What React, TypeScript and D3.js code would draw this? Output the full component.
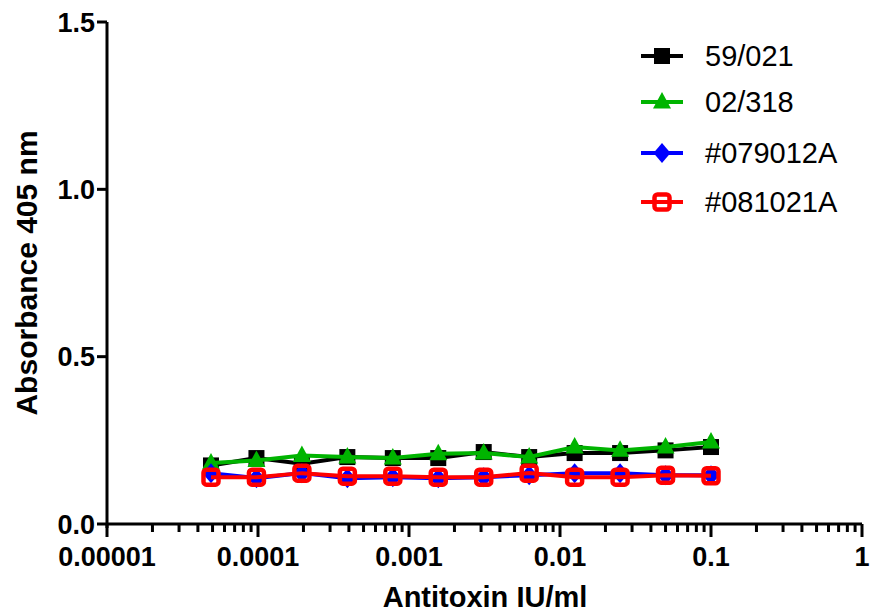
import * as d3 from "d3"

// antitoxin concentrations (IU/ml), two-fold dilutions from 0.1
const doses = [0.1, 0.05, 0.025, 0.0125, 0.00625, 0.003125, 0.0015625, 0.00078125, 0.000390625, 0.0001953125, 0.00009765625, 0.000048828125]

const seriesNames = ["59/021", "02/318", "#079012A", "#081021A"]
const seriesColors = ["#000000", "#00b400", "#0000ff", "#ff0000"]
const seriesMarkers = ["square", "triangle", "diamond", "openSquare"]

// absorbance, listed from the highest dose down
const abs59021 = [0.23, 0.22, 0.212, 0.212, 0.2, 0.215, 0.197, 0.197, 0.2, 0.18, 0.197, 0.175]
const abs02318 = [0.245, 0.23, 0.22, 0.23, 0.2, 0.212, 0.21, 0.197, 0.2, 0.205, 0.19, 0.182]
const abs079012A = [0.146, 0.146, 0.152, 0.152, 0.146, 0.14, 0.137, 0.14, 0.137, 0.152, 0.137, 0.152]
const abs081021A = [0.144, 0.146, 0.14, 0.14, 0.152, 0.14, 0.14, 0.143, 0.143, 0.152, 0.14, 0.14]
const seriesValues = [abs59021, abs02318, abs079012A, abs081021A]

const xTicks = [0.00001, 0.0001, 0.001, 0.01, 0.1, 1]
const xTickLabels = ["0.00001", "0.0001", "0.001", "0.01", "0.1", "1"]
const yTicks = [0, 0.5, 1.0, 1.5]

const Marker = ({ kind, color, x, y }: { kind: string; color: string; x: number; y: number }) => {
    if (kind === "square") return <rect x={x - 8} y={y - 8} width={16} height={16} fill={color} />
    if (kind === "triangle") return <path d={`M${x},${y - 10} L${x + 9},${y + 6.5} L${x - 9},${y + 6.5} Z`} fill={color} />
    if (kind === "diamond") return <path d={`M${x},${y - 10} L${x + 8.5},${y} L${x},${y + 10} L${x - 8.5},${y} Z`} fill={color} />
    return <rect x={x - 7.5} y={y - 7.5} width={15} height={15} rx={3} fill="none" stroke={color} strokeWidth={4.5} />
}

export default function App() {
    const x = d3.scaleLog().domain([0.00001, 1]).range([107, 862])
    const y = d3.scaleLinear().domain([0, 1.5]).range([524, 22])

    const minorTicks: number[] = []
    for (let e = -5; e < 0; e++) for (let m = 2; m <= 9; m++) minorTicks.push(m * Math.pow(10, e))

    const line = d3.line<[number, number]>().x((d) => x(d[0])).y((d) => y(d[1]))
    const font = "Liberation Sans, Arial, sans-serif"

    return (
        <svg width={871} height={614} style={{ position: "absolute", left: 0, top: 0 }} fontFamily={font}>
            <rect width={871} height={614} fill="white" />
            {/* axes */}
            <line x1={107} x2={107} y1={y(1.5)} y2={y(0) + 4} stroke="black" strokeWidth={3} />
            <line x1={x(0.00001)} x2={x(1)} y1={y(0)} y2={y(0)} stroke="black" strokeWidth={3} />
            {yTicks.map((t) => (
                <g key={t}>
                    <line x1={97} x2={107} y1={y(t)} y2={y(t)} stroke="black" strokeWidth={3} />
                    <text x={95} y={y(t)} dy="0.36em" textAnchor="end" fontSize={27} fontWeight="bold">{t.toFixed(1)}</text>
                </g>
            ))}
            {minorTicks.map((t) => (
                <line key={t} x1={x(t)} x2={x(t)} y1={y(0)} y2={y(0) + 8} stroke="black" strokeWidth={3} />
            ))}
            {xTicks.map((t, i) => (
                <g key={t}>
                    <line x1={x(t)} x2={x(t)} y1={y(0)} y2={y(0) + 13} stroke="black" strokeWidth={3} />
                    <text x={x(t)} y={566} textAnchor="middle" fontSize={27} fontWeight="bold">{xTickLabels[i]}</text>
                </g>
            ))}
            <text x={485} y={607} textAnchor="middle" fontSize={29} fontWeight="bold">Antitoxin IU/ml</text>
            <text transform="translate(37,273) rotate(-90)" textAnchor="middle" fontSize={30} fontWeight="bold">Absorbance 405 nm</text>

            {/* series */}
            {seriesValues.map((vals, si) => {
                const pts = doses.map((d, i) => [d, vals[i]] as [number, number])
                return (
                    <g key={seriesNames[si]}>
                        <path d={line(pts) ?? ""} fill="none" stroke={seriesColors[si]} strokeWidth={4} />
                        {pts.map((p, i) => (
                            <Marker key={i} kind={seriesMarkers[si]} color={seriesColors[si]} x={x(p[0])} y={y(p[1])} />
                        ))}
                    </g>
                )
            })}

            {/* legend */}
            {seriesNames.map((name, i) => {
                const ly = [56, 102, 153, 202][i]
                return (
                    <g key={name}>
                        <line x1={641} x2={683} y1={ly} y2={ly} stroke={seriesColors[i]} strokeWidth={4} />
                        <Marker kind={seriesMarkers[i]} color={seriesColors[i]} x={662} y={ly} />
                        <text x={705} y={ly} dy="0.36em" fontSize={29}>{name}</text>
                    </g>
                )
            })}
        </svg>
    )
}
